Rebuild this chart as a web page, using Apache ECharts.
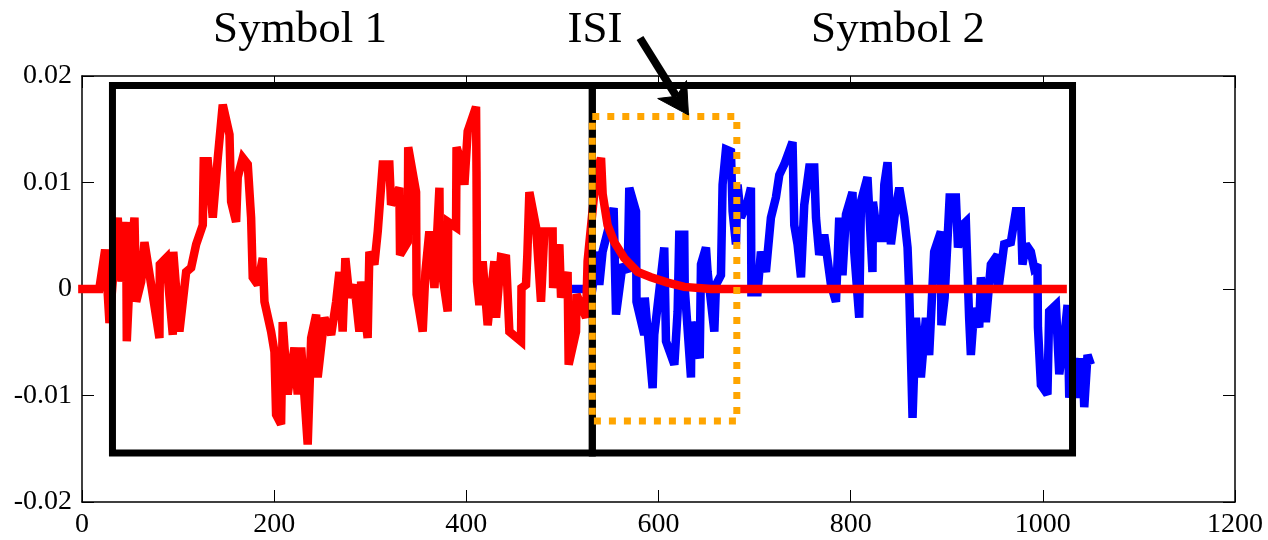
<!DOCTYPE html>
<html>
<head>
<meta charset="utf-8">
<script src="https://cdn.jsdelivr.net/npm/echarts@6/dist/echarts.min.js"></script>
<style>
html,body{margin:0;padding:0;background:#fff;}
#chart{width:1268px;height:540px;}
</style>
</head>
<body>
<div id="chart"></div>
<script>
// ---- axis setup ----
const xTickLabels = ['0', '200', '400', '600', '800', '1000', '1200'];
const yTickLabels = ['-0.02', '-0.01', '0', '0.01', '0.02'];
const titles = ['Symbol 1', 'ISI', 'Symbol 2'];

// ---- symbol 1 (red): leading zeros, noisy symbol, decaying tail (ISI) ----
const redSignal = [
  [-4, 0], [18, 0], [24.1, 0.0037], [28.6, -0.0032], [37.2, 0.0067], [41.1, 0.0007], [46.0, 0.0063],
  [46.6, -0.0049], [50.5, 0.0029], [54.6, 0.0067], [56.4, -0.0012], [61.6, 0.0007], [65.0, 0.0044],
  [72.0, 0.0004], [80.6, -0.0046], [81.0, 0.0023], [87.6, 0.0029], [94.5, -0.0043], [95.0, 0.0035],
  [101.4, -0.0040], [108.4, 0.0016], [113.6, 0.0020], [118.8, 0.0042], [125.7, 0.0060], [126.7, 0.0120],
  [130.9, 0.0120], [136.1, 0.0067], [141.3, 0.0123], [146.5, 0.0173], [153.5, 0.0145], [155.2, 0.0082],
  [160.4, 0.0063], [162.1, 0.0105], [167.3, 0.0123], [172.5, 0.0117], [176.0, 0.0067], [177.7, 0.0011],
  [182.9, 0.0004], [188.1, 0.0029], [189.9, -0.0012], [196.8, -0.0040], [200.3, -0.0059], [202.0, -0.0118],
  [207.2, -0.0127], [208.9, -0.0031], [214.1, -0.0099], [221.1, -0.0055], [224.5, -0.0099], [228.1, -0.0055],
  [234.9, -0.0146], [238.5, -0.0046], [243.7, -0.0024], [245.3, -0.0083], [252.3, -0.0027], [259.3, -0.0043],
  [264.5, -0.0012], [267.9, 0.0016], [271.3, -0.0040], [274.1, 0.0029], [278.3, -0.0008], [283.5, 0.0004],
  [288.7, -0.0040], [290.5, 0.0007], [297.3, -0.0046], [299.1, 0.0035], [304.3, 0.0023], [307.8, 0.0054],
  [313.0, 0.0117], [319.9, 0.0117], [321.7, 0.0079], [330.3, 0.0095], [331.0, 0.0032], [339.0, 0.0044],
  [339.5, 0.0133], [347.7, 0.0091], [348.2, -0.0005], [354.6, -0.0040], [357.4, 0.0016], [361.5, 0.0054],
  [366.8, 0.0001], [372.0, 0.0095], [372.5, 0.0029], [380.6, -0.0021], [381.1, 0.0063], [389.3, 0.0058],
  [389.8, 0.0133], [394.5, 0.0120], [398.0, 0.0098], [401.4, 0.0148], [410.1, 0.0171], [410.6, 0.0110],
  [411.1, 0.0007], [413.6, -0.0015], [417.0, 0.0026], [422.2, -0.0034], [429.2, 0.0026], [430.9, -0.0027],
  [436.1, 0.0030], [441.3, 0.0029], [444.8, -0.0040], [456.9, -0.0049], [457.4, 0.0001], [462.1, 0.0004],
  [463.5, 0.0032], [465.6, 0.0091], [472.6, 0.0058], [477.7, -0.0012], [481.2, 0.0054], [489.8, 0.0054],
  [490.3, 0.0001], [496.8, 0.0042], [498.6, -0.0008], [505.4, 0.0016], [506.5, -0.0071], [514.2, -0.0040],
  [514.7, -0.0005], [524.6, -0.0027], [526.2, 0.0026], [535.0, 0.0107], [540.2, 0.0123],
  [541.9, 0.0089], [547.0, 0.0060], [554.0, 0.0044], [564.4, 0.0029], [578.3, 0.0016], [592.2, 0.0011],
  [609.5, 0.0006], [626.8, 0.0002], [654.6, 0.0000], [1025, 0]
];

// ---- symbol 2 (blue) ----
const blueSignal = [
  [509, 0], [531.1, 0], [536.6, 0.0035], [538.4, 0.0004], [541.8, 0.0035], [553.3, 0.0076], [555.8, -0.0024],
  [562.6, 0.0023], [567.9, 0.0016], [569.6, 0.0095], [576.6, 0.0073], [577.1, -0.0012], [585.2, -0.0043],
  [585.7, -0.0008], [593.9, -0.0093], [595.6, -0.0043], [606.0, 0.0039], [607.8, -0.0049], [616.5, -0.0071],
  [619.9, -0.0021], [621.6, 0.0051], [626.8, 0.0051], [627.3, 0.0001], [633.8, -0.0083], [634.3, -0.0031],
  [642.9, -0.0065], [644.2, 0.0023], [649.4, 0.0039], [651.1, 0.0016], [658.1, -0.0040], [659.8, 0.0004],
  [665.0, 0.0013], [666.7, 0.0098], [670.2, 0.0131], [675.4, 0.0129], [677.1, 0.0073], [680.6, 0.0042],
  [682.3, 0.0098], [685.8, 0.0067], [692.7, 0.0082], [696.2, 0.0095], [696.7, -0.0003], [703.1, -0.0003],
  [706.6, 0.0035], [711.8, 0.0016], [717.0, 0.0067], [722.2, 0.0086], [725.7, 0.0107], [730.9, 0.0117],
  [739.5, 0.0138], [741.3, 0.0060], [744.7, 0.0042], [748.3, 0.0011], [751.7, 0.0079], [756.9, 0.0114],
  [762.1, 0.0114], [763.9, 0.0067], [767.3, 0.0032], [772.5, 0.0051], [779.5, 0.0004], [784.7, -0.0012],
  [788.1, 0.0067], [791.5, 0.0013], [795.1, 0.0070], [801.9, 0.0091], [803.7, 0.0035], [808.9, -0.0027],
  [810.7, 0.0082], [817.5, 0.0105], [822.7, 0.0016], [823.2, 0.0082], [828.0, 0.0048], [833.2, 0.0048],
  [835.0, 0.0098], [838.4, 0.0119], [841.9, 0.0042], [845.4, 0.0067], [850.6, 0.0095], [855.8, 0.0067],
  [859.2, 0.0039], [861.0, -0.0003], [864.4, -0.0121], [867.9, -0.0027], [873.1, -0.0083], [878.3, -0.0027],
  [881.7, -0.0062], [886.9, 0.0035], [893.9, 0.0054], [894.4, -0.0034], [897.8, -0.0008], [903.0, 0.0086],
  [909.5, 0.0086], [911.7, 0.0039], [916.4, 0.0060], [919.9, 0.0063], [923.3, -0.0027], [925.1, -0.0062],
  [928.6, -0.0018], [933.8, -0.0036], [935.5, 0.0011], [940.7, -0.0031], [945.9, 0.0023], [952.8, 0.0032],
  [953.3, -0.0003], [959.8, 0.0042], [966.7, 0.0044], [971.9, 0.0073], [977.1, 0.0073], [978.8, 0.0023],
  [982.3, 0.0042], [987.5, 0.0035], [990.9, 0.0020], [994.4, 0.0023], [994.9, -0.0036], [998.0, -0.0090],
  [1004.8, -0.0099], [1006.6, -0.0021], [1013.6, -0.0015], [1017.1, -0.0080], [1022.3, -0.0046],
  [1025.7, -0.0015], [1027.5, -0.0102], [1032.7, -0.0065], [1037.9, -0.0102], [1041.3, -0.0065],
  [1043.1, -0.0111], [1046.5, -0.0062], [1050.0, -0.0071]
];

// ---- annotation boxes (data coordinates) ----
const box1 = [[31.7, 0.0191], [531.1, 0.0191], [531.1, -0.0154], [31.7, -0.0154], [31.7, 0.0191]];
const box2 = [[531.1, 0.0191], [1030.9, 0.0191], [1030.9, -0.0154], [531.1, -0.0154], [531.1, 0.0191]];
const isiBox = [[531.1, 0.0162], [681.5, 0.0162], [681.5, -0.0124], [531.1, -0.0124], [531.1, 0.0162]];

const xMin = 0, xMax = 1200, xStep = 200;
const yMin = -0.02, yMax = 0.02, yStep = 0.01;

const FONT = 'Liberation Serif';
const chart = echarts.init(document.getElementById('chart'), null, {renderer: 'canvas'});

function yLabel(v) {
  const i = Math.round((v - yMin) / yStep);
  return yTickLabels[i] !== undefined ? yTickLabels[i] : '';
}
function xLabel(v) {
  const i = Math.round((v - xMin) / xStep);
  return xTickLabels[i] !== undefined ? xTickLabels[i] : '';
}

const axisLine = {show: true, onZero: false, lineStyle: {color: '#000', width: 1.5}};
const tick = {show: true, inside: true, length: 12, lineStyle: {color: '#000', width: 1}};

// arrow geometry (annotation, pixel space)
const arrowTail = [640, 38];
const arrowTip = [688.5, 115];

const option = {
  animation: false,
  backgroundColor: '#fff',
  grid: {left: 82, right: 33, top: 76, bottom: 38, containLabel: false},
  xAxis: [
    {type: 'value', min: xMin, max: xMax, interval: xStep, position: 'bottom',
     axisLine: axisLine, axisTick: tick, splitLine: {show: false},
     axisLabel: {color: '#000', fontFamily: FONT, fontSize: 28, margin: 9, formatter: xLabel}},
    {type: 'value', min: xMin, max: xMax, interval: xStep, position: 'top',
     axisLine: axisLine, axisTick: tick, splitLine: {show: false}, axisLabel: {show: false}}
  ],
  yAxis: [
    {type: 'value', min: yMin, max: yMax, interval: yStep, position: 'left',
     axisLine: axisLine, axisTick: tick, splitLine: {show: false},
     axisLabel: {color: '#000', fontFamily: FONT, fontSize: 28, margin: 10, formatter: yLabel}},
    {type: 'value', min: yMin, max: yMax, interval: yStep, position: 'right',
     axisLine: axisLine, axisTick: tick, splitLine: {show: false}, axisLabel: {show: false}}
  ],
  series: [
    {type: 'line', data: blueSignal, showSymbol: false, symbol: 'none', clip: false, z: 2,
     lineStyle: {color: '#0000ff', width: 8.5, join: 'miter', miterLimit: 2.5, cap: 'butt'}},
    {type: 'line', data: redSignal, showSymbol: false, symbol: 'none', clip: false, z: 3,
     lineStyle: {color: '#ff0000', width: 8.5, join: 'miter', miterLimit: 2.5, cap: 'butt'}},
    {type: 'line', data: box1, showSymbol: false, symbol: 'none', clip: false, z: 4,
     lineStyle: {color: '#000', width: 7, join: 'miter', cap: 'square'}},
    {type: 'line', data: box2, showSymbol: false, symbol: 'none', clip: false, z: 4,
     lineStyle: {color: '#000', width: 7, join: 'miter', cap: 'square'}},
    {type: 'line', data: isiBox, showSymbol: false, symbol: 'none', clip: false, z: 5,
     lineStyle: {color: '#ffa500', width: 7, type: [7, 8], join: 'miter', cap: 'butt'}}
  ],
  graphic: [
    {type: 'text', x: 300, y: 30, z: 10,
     style: {text: titles[0], font: '45px "Liberation Serif"', fill: '#000', align: 'center', verticalAlign: 'middle'}},
    {type: 'text', x: 595, y: 30, z: 10,
     style: {text: titles[1], font: '45px "Liberation Serif"', fill: '#000', align: 'center', verticalAlign: 'middle'}},
    {type: 'text', x: 898, y: 30, z: 10,
     style: {text: titles[2], font: '45px "Liberation Serif"', fill: '#000', align: 'center', verticalAlign: 'middle'}},
    {type: 'polyline', z: 10,
     shape: {points: [arrowTail, [676.4, 96.3]]},
     style: {stroke: '#000', lineWidth: 8, fill: null}},
    {type: 'polygon', z: 10,
     shape: {points: [arrowTip, [657.7, 98.5], [676.4, 96.3], [686.5, 80.5]]},
     style: {fill: '#000', stroke: '#000', lineWidth: 1}}
  ]
};
chart.setOption(option);
</script>
</body>
</html>
